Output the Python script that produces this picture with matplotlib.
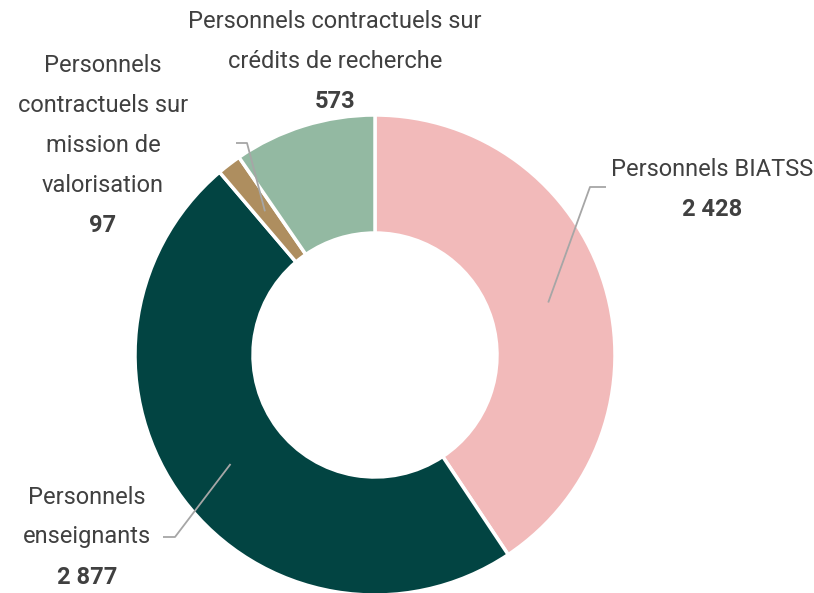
import matplotlib.pyplot as plt
import numpy as np

# --- données ---
categories = ["Personnels BIATSS", "Personnels enseignants",
              "Personnels contractuels sur mission de valorisation",
              "Personnels contractuels sur crédits de recherche"]
valeurs = [2428, 2877, 97, 573]
etiquettes = ["Personnels BIATSS",
              "Personnels\nenseignants",
              "Personnels\ncontractuels sur\nmission de\nvalorisation",
              "Personnels contractuels sur\ncrédits de recherche"]
valeurs_txt = ["2 428", "2 877", "97", "573"]
couleurs = ["#F2BABA", "#024442", "#AE8E5F", "#93B9A2"]

W, H = 814, 593
cx, cy = 375, H - 355
R, r_in = 240, 122

police = ['Roboto', 'DejaVu Sans']
gris_txt = '#404040'
gris_ligne = '#A6A6A6'

fig = plt.figure(figsize=(W / 100, H / 100), dpi=100)
ax = fig.add_axes([0, 0, 1, 1])

wedges, _ = ax.pie(valeurs, colors=couleurs, startangle=90, counterclock=False,
                   center=(cx, cy), radius=R, frame=True,
                   wedgeprops=dict(width=R - r_in, edgecolor='white', linewidth=2.5))
ax.set_xlim(0, W)
ax.set_ylim(0, H)
ax.set_aspect('equal')
ax.axis('off')

# position des étiquettes (pixels depuis le haut) : centre x, y première ligne
pos_txt = [(712, 170), (87, 497), (103, 65), (335, 22)]
# coude des lignes de rappel (pixels depuis le haut), None = pas de ligne
coudes = [((590, 187), (606, 187)), ((175, 537), (163, 537)),
          ((247, 143), (236, 143)), None]

interligne = 40
for i, w in enumerate(wedges):
    x0, y0 = pos_txt[i]
    lignes = etiquettes[i].split("\n")
    for k, ligne in enumerate(lignes):
        ax.text(x0, H - (y0 + k * interligne), ligne, ha='center', va='center',
                fontsize=17, color=gris_txt, family=police)
    ax.text(x0, H - (y0 + len(lignes) * interligne), valeurs_txt[i],
            ha='center', va='center', fontsize=17, fontweight='bold',
            color=gris_txt, family=police)
    if coudes[i] is not None:
        ang = np.deg2rad((w.theta1 + w.theta2) / 2)
        rm = (R + r_in) / 2
        xs = [cx + rm * np.cos(ang)] + [p[0] for p in coudes[i]]
        ys = [cy + rm * np.sin(ang)] + [H - p[1] for p in coudes[i]]
        ax.plot(xs, ys, color=gris_ligne, lw=1.3, solid_capstyle='butt')

fig.savefig("out.png", dpi=100)
